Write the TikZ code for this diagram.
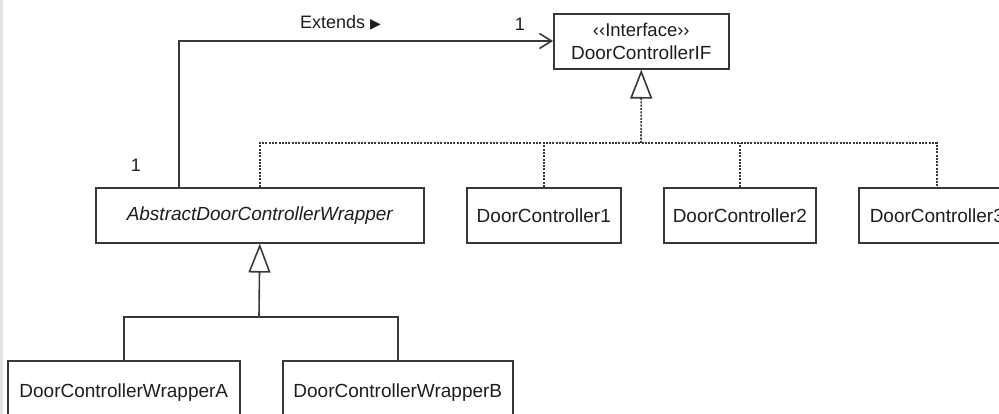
\documentclass[tikz,border=0pt]{standalone}
\usepackage{fontspec}
\setmainfont{Liberation Sans}
\newfontfamily\symfont{DejaVu Sans}
\usetikzlibrary{arrows.meta}
\definecolor{linec}{HTML}{383838}
\definecolor{textc}{HTML}{1E1E1E}
\begin{document}
\begin{tikzpicture}[x=1pt,y=-1pt,
  umlbox/.style={draw=linec, line width=1.6pt, fill=white, inner sep=0pt,
    anchor=north west, minimum height=55pt, text=textc,
    font=\fontsize{19}{23}\selectfont, align=center},
  lbl/.style={text=textc, inner sep=0pt, font=\fontsize{18}{22}\selectfont},
  solidline/.style={draw=linec, line width=1.6pt},
  realline/.style={draw=linec, line width=1.6pt, dash pattern=on 2pt off 1.3pt},
  gentip/.style={-{Triangle[open, length=29pt, width=22pt, line width=1.6pt, fill=white]}},
  assoctip/.style={-{Straight Barb[length=12pt, width=15pt, line width=1.6pt]}}
]
\useasboundingbox (0,0) rectangle (999,414);
\clip (0,0) rectangle (999,414);
\fill[gray!22] (0,0) rectangle (3,414);

% nodes
\node[umlbox, minimum width=175pt] (if) at (553,13)
  {{\fontsize{18.5}{20}\selectfont ‹‹Interface››}\\DoorControllerIF};
\node[umlbox, minimum width=328pt, font=\fontsize{19}{23}\selectfont\itshape] (abs) at (95,187) {AbstractDoorControllerWrapper};
\node[umlbox, minimum width=154pt] (dc1) at (466,187) {DoorController1};
\node[umlbox, minimum width=152pt] (dc2) at (663,187) {DoorController2};
\node[umlbox, minimum width=156pt] (dc3) at (858,187) {DoorController3};
\node[umlbox, minimum width=232pt, minimum height=64pt] (wa) at (7,360) {\raisebox{4.5pt}{DoorControllerWrapperA}};
\node[umlbox, minimum width=230pt, minimum height=64pt] (wb) at (282,360) {\raisebox{4.5pt}{DoorControllerWrapperB}};

% labels
\node[lbl, anchor=west] (ext) at (300,23) {Extends {\symfont\fontsize{14}{16}\selectfont ▶}};
\node[lbl] (m1) at (520,24) {1};
\node[lbl] (m2) at (136,165) {1};

% association
\coordinate (corner) at (178,41);
\draw[solidline, assoctip] ([xshift=-81pt]abs.north) |- (corner) -- (if.west |- corner);

% realization
\coordinate (bus) at (641,143);
\draw[realline, gentip] (bus) -- (if.south);
\draw[realline] (abs.north) |- (dc3.north |- bus) -- (dc3.north);
\draw[realline] (dc1.north) -- (dc1.north |- bus);
\draw[realline] (dc2.north) -- (dc2.north |- bus);

% generalization
\coordinate (gj) at (259,317);
\draw[solidline, gentip] (gj) -- (abs.south);
\draw[solidline] (wa.north) |- (gj) -| (wb.north);
\end{tikzpicture}
\end{document}
